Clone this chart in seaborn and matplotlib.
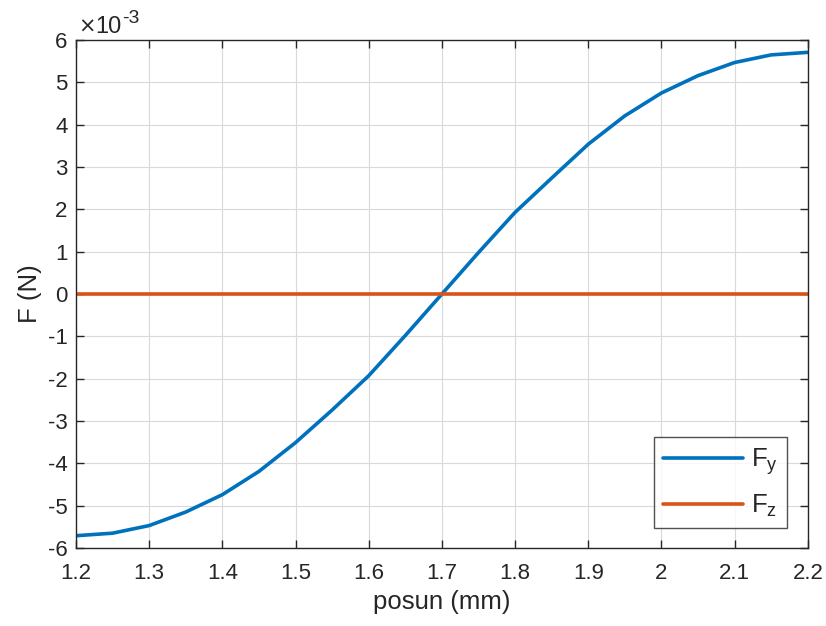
import numpy as np
import pandas as pd
import matplotlib
matplotlib.use("Agg")
import matplotlib.pyplot as plt
import seaborn as sns

# data (F values in units of 1e-3 N)
posun = [1.2, 1.25, 1.3, 1.35, 1.4, 1.45, 1.5, 1.55, 1.6, 1.65, 1.7,
         1.75, 1.8, 1.85, 1.9, 1.95, 2.0, 2.05, 2.1, 2.15, 2.2]
Fy = [-5.71, -5.65, -5.47, -5.15, -4.74, -4.19, -3.51, -2.74, -1.93, -0.98, 0.0,
      0.98, 1.93, 2.74, 3.54, 4.21, 4.75, 5.16, 5.47, 5.65, 5.71]
Fz = [0.0] * len(posun)
series_names = ["F$_{\\mathregular{y}}$", "F$_{\\mathregular{z}}$"]
xticks = [1.2, 1.3, 1.4, 1.5, 1.6, 1.7, 1.8, 1.9, 2.0, 2.1, 2.2]
xticklabels = ["1.2", "1.3", "1.4", "1.5", "1.6", "1.7", "1.8", "1.9", "2", "2.1", "2.2"]
yticks = list(range(-6, 7))

sns.set_theme(style="white")
plt.rcParams['font.family'] = ['Liberation Sans', 'DejaVu Sans']
plt.rcParams['axes.unicode_minus'] = False
plt.rcParams['mathtext.fontset'] = 'custom'
plt.rcParams['mathtext.rm'] = 'Liberation Sans'

df = pd.DataFrame({
    "posun": posun * 2,
    "F": Fy + Fz,
    "serie": [series_names[0]] * len(posun) + [series_names[1]] * len(posun),
})

fig = plt.figure(figsize=(8.26, 6.26), dpi=100)
ax = fig.add_axes([0.092, 0.1246, 0.886, 0.8114])
sns.lineplot(data=df, x="posun", y="F", hue="serie",
             palette=["#0072BD", "#D95319"], linewidth=2.6, ax=ax,
             estimator=None, sort=False)

ax.set_xlim(1.2, 2.2)
ax.set_ylim(-6, 6)
ax.set_xticks(xticks)
ax.set_xticklabels(xticklabels)
ax.set_yticks(yticks)
ax.set_yticklabels([str(t) for t in yticks])
ax.grid(True, color="#d9d9d9", linewidth=0.8)
ax.tick_params(direction="in", length=6, width=1, top=True, right=True,
               labelsize=16, colors="#262626", bottom=True, left=True)
ax.tick_params(axis="x", pad=11)
ax.tick_params(axis="y", pad=6)
for s in ax.spines.values():
    s.set_color("#262626")
    s.set_linewidth(1)
ax.set_xlabel("posun (mm)", fontsize=18.5, color="#262626", labelpad=4)
ax.set_ylabel("F (N)", fontsize=18.5, color="#262626", labelpad=4)
ax.text(0.003, 1.0138, "\u00d7", transform=ax.transAxes, family="DejaVu Sans",
        fontsize=15, color="#262626", ha="left", va="baseline")
ax.text(0.026, 1.0138, "10", transform=ax.transAxes,
        fontsize=17, color="#262626", ha="left", va="baseline")
ax.text(0.0625, 1.0335, "-3", transform=ax.transAxes,
        fontsize=14, color="#262626", ha="left", va="baseline")

leg = ax.legend(loc="lower right", bbox_to_anchor=(0.971, 0.039), fontsize=18.5,
                frameon=True, fancybox=False, edgecolor="#262626",
                handlelength=3.1, borderpad=0.35, labelspacing=0.6,
                handletextpad=0.3, borderaxespad=0, title=None)
leg.get_frame().set_linewidth(1)
for line in leg.get_lines():
    line.set_linewidth(2.6)

fig.savefig("out.png", dpi=100, facecolor="white")
